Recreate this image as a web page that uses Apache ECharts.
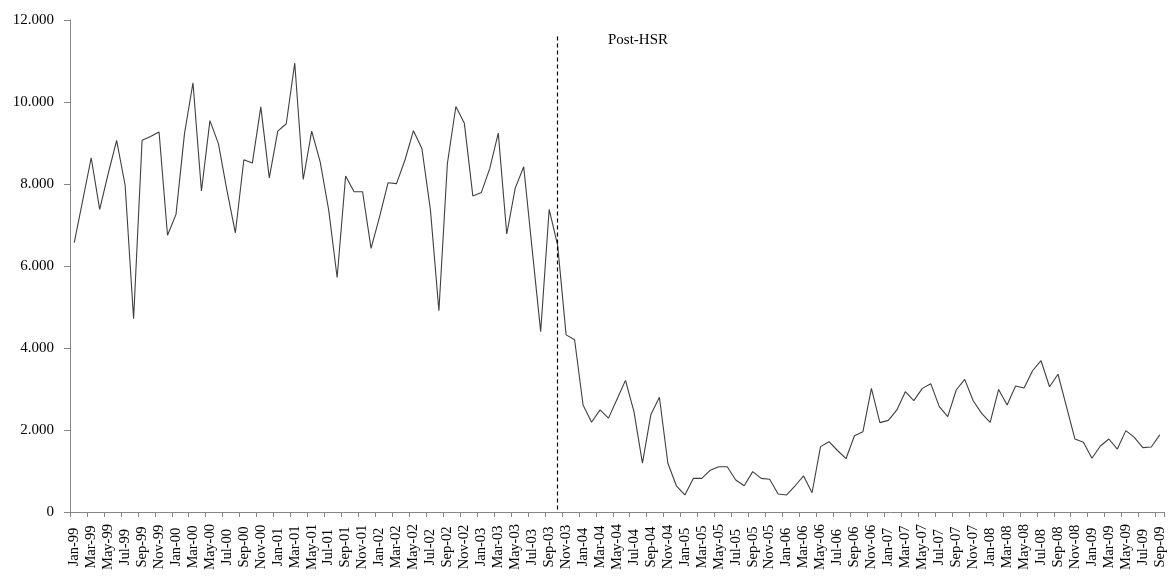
<!DOCTYPE html>
<html><head><meta charset="utf-8">
<script src="https://cdn.jsdelivr.net/npm/echarts@6/dist/echarts.min.js"></script>
<style>html,body{margin:0;padding:0;background:#fff}#c{width:1168px;height:576px}</style>
</head><body><div id="c"></div>
<script>
var years = ['99','00','01','02','03','04','05','06','07','08','09'];
var monthNames = ['Jan','Feb','Mar','Apr','May','Jun','Jul','Aug','Sep','Oct','Nov','Dec'];
var categories = [];
years.forEach(function(y){ monthNames.forEach(function(m){ categories.push(m + '-' + y); }); });
categories = categories.slice(0, 129);

var values1999 = [6570, 7600, 8640, 7380, 8250, 9065, 7970, 4715, 9065, 9160, 9270, 6750];
var values2000 = [7260, 9230, 10470, 7830, 9545, 8985, 7850, 6810, 8590, 8510, 9880, 8150];
var values2001 = [9290, 9470, 10950, 8110, 9290, 8540, 7370, 5720, 8195, 7810, 7810, 6430];
var values2002 = [7200, 8030, 8010, 8585, 9300, 8860, 7370, 4910, 8500, 9890, 9480, 7710];
var values2003 = [7790, 8380, 9240, 6780, 7900, 8420, 6400, 4400, 7380, 6510, 4320, 4200];
var values2004 = [2610, 2190, 2490, 2290, 2750, 3210, 2450, 1190, 2380, 2800, 1190, 640];
var values2005 = [415, 820, 820, 1020, 1105, 1105, 780, 640, 985, 820, 800, 440];
var values2006 = [415, 640, 880, 470, 1595, 1715, 1500, 1300, 1860, 1960, 3015, 2180];
var values2007 = [2235, 2490, 2935, 2715, 3015, 3130, 2570, 2325, 2975, 3235, 2715, 2405];
var values2008 = [2185, 2990, 2610, 3075, 3025, 3445, 3690, 3055, 3360, 2570, 1780, 1700];
var values2009 = [1310, 1610, 1780, 1535, 1985, 1820, 1570, 1585, 1880];
var seriesValues = [].concat(values1999, values2000, values2001, values2002, values2003,
  values2004, values2005, values2006, values2007, values2008, values2009);

var yTicks = [0, 2000, 4000, 6000, 8000, 10000, 12000];
var breakMonth = 'Oct-03';
var annotation = 'Post-HSR';

var font = '"Liberation Serif", "Times New Roman", serif';
var chart = echarts.init(document.getElementById('c'));
chart.setOption({
  animation: false,
  backgroundColor: '#fff',
  textStyle: { fontFamily: font },
  grid: { left: 70, right: 4, top: 20, bottom: 64, containLabel: false },
  xAxis: {
    type: 'category',
    data: categories,
    boundaryGap: true,
    axisLine: { lineStyle: { color: '#868686', width: 1 } },
    axisTick: { show: true, interval: 1, length: 5, lineStyle: { color: '#868686' } },
    axisLabel: { interval: 1, rotate: 90, margin: 35, align: 'center', verticalAlign: 'middle',
      fontFamily: font, fontSize: 14.5, color: '#000' },
    splitLine: { show: false }
  },
  yAxis: {
    type: 'value',
    min: yTicks[0],
    max: yTicks[yTicks.length - 1],
    interval: 2000,
    axisLine: { show: true, lineStyle: { color: '#868686', width: 1 } },
    axisTick: { show: true, length: 6, inside: false, lineStyle: { color: '#868686' } },
    axisLabel: {
      margin: 16, fontFamily: font, fontSize: 15, color: '#000',
      formatter: function (v) { return v === 0 ? '0' : (Math.floor(v / 1000) + '.000'); }
    },
    splitLine: { show: false }
  },
  series: [{
    type: 'line',
    data: seriesValues,
    symbol: 'none',
    lineStyle: { color: '#3f3f3f', width: 1.1 },
    markLine: {
      silent: true,
      symbol: ['none', 'none'],
      label: { show: false },
      lineStyle: { color: '#000', type: [4, 3], width: 1.2 },
      data: [[{ xAxis: breakMonth, yAxis: 11600 }, { xAxis: breakMonth, yAxis: 0 }]]
    }
  }],
  graphic: [{
    type: 'text',
    left: 608,
    top: 33,
    style: { text: annotation, font: '15px ' + font, fill: '#000' }
  }]
});
</script></body></html>
